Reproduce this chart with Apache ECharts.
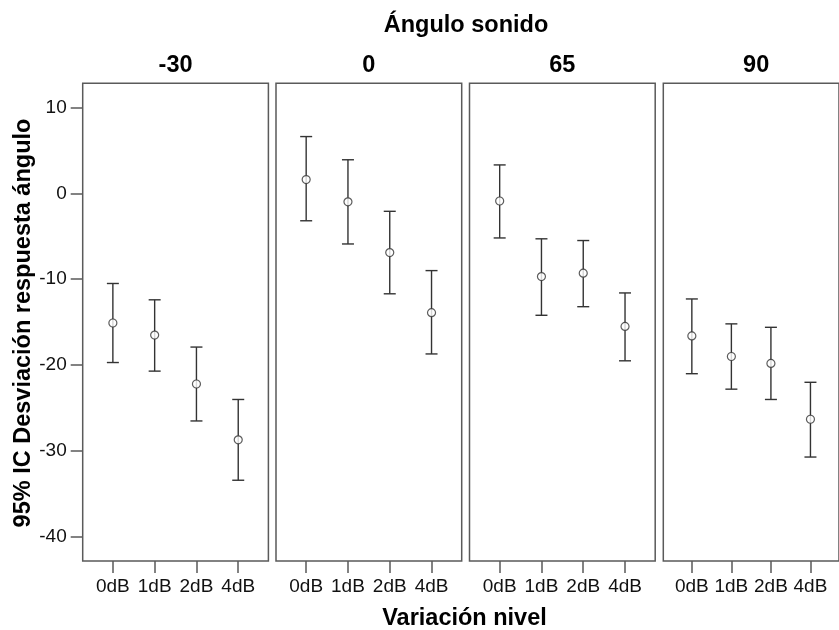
<!DOCTYPE html>
<html>
<head>
<meta charset="utf-8">
<script src="https://cdn.jsdelivr.net/npm/echarts@6/dist/echarts.min.js"></script>
<style>
  html, body { margin: 0; padding: 0; background: #fff; }
  #chart { width: 839px; height: 630px; }
</style>
</head>
<body>
<div id="chart"></div>
<script>
// Level variation categories on the x axis of every panel
const categories = ['0dB', '1dB', '2dB', '4dB'];
// Sound angle facets
const panels = ['-30', '0', '65', '90'];
// Y axis tick values
const yTicks = [-40, -30, -20, -10, 0, 10];

// Means and 95% CI bounds per facet
const meanM30 = [-15.1, -16.5, -22.2, -28.7];
const lowM30  = [-19.7, -20.7, -26.5, -33.4];
const highM30 = [-10.5, -12.4, -17.9, -24.0];

const mean0 = [1.6, -1.0, -6.9, -13.9];
const low0  = [-3.2, -5.9, -11.7, -18.7];
const high0 = [6.6, 3.9, -2.1, -9.0];

const mean65 = [-0.9, -9.7, -9.3, -15.5];
const low65  = [-5.2, -14.2, -13.2, -19.5];
const high65 = [3.3, -5.3, -5.5, -11.6];

const mean90 = [-16.6, -19.0, -19.8, -26.3];
const low90  = [-21.0, -22.8, -24.0, -30.7];
const high90 = [-12.3, -15.2, -15.6, -22.0];

const means = [meanM30, mean0, mean65, mean90];
const lows = [lowM30, low0, low65, low90];
const highs = [highM30, high0, high65, high90];

const FONT = 'Liberation Sans, Arial, Helvetica, sans-serif';
const BORDER = '#5a5a5a';
const BAR = '#333';

// Panel layout
const panelLeft = [82.7, 276, 469.5, 663.3];
const panelWidth = 185.7;
const panelTop = 83.3;
const panelHeight = 477.7;
const catIdx = categories.map((c, i) => i);

const grids = [], xAxes = [], yAxes = [], series = [], graphics = [];

panels.forEach((p, k) => {
  grids.push({
    left: panelLeft[k], top: panelTop, width: panelWidth, height: panelHeight,
    show: true, borderColor: BORDER, borderWidth: 1.5, backgroundColor: '#fff'
  });
  xAxes.push({
    gridIndex: k, type: 'value', min: -0.722, max: 3.722, position: 'bottom',
    axisLine: { show: false, onZero: false },
    splitLine: { show: false },
    axisTick: { show: true, inside: false, length: 12, customValues: catIdx,
      lineStyle: { color: BORDER, width: 1.5 } },
    axisLabel: { show: true, customValues: catIdx, margin: 16,
      fontFamily: FONT, fontSize: 19, color: '#111',
      formatter: v => categories[Math.round(v)] }
  });
  yAxes.push({
    gridIndex: k, type: 'value', min: -42.8, max: 12.8, position: 'left',
    axisLine: { show: false, onZero: false },
    splitLine: { show: false },
    axisTick: { show: k === 0, inside: false, length: 12, customValues: yTicks,
      lineStyle: { color: BORDER, width: 1.5 } },
    axisLabel: { show: k === 0, customValues: yTicks, margin: 16,
      fontFamily: FONT, fontSize: 19, color: '#111' }
  });

  // Error bars: [x, low, high]
  series.push({
    type: 'custom', xAxisIndex: k, yAxisIndex: k,
    data: catIdx.map(i => [i, lows[k][i], highs[k][i]]),
    renderItem: (params, api) => {
      const x = api.value(0);
      const lo = api.coord([x, api.value(1)]);
      const hi = api.coord([x, api.value(2)]);
      const half = 6;
      const style = { stroke: BAR, lineWidth: 1.4 };
      return {
        type: 'group',
        children: [
          { type: 'line', shape: { x1: lo[0], y1: lo[1], x2: hi[0], y2: hi[1] }, style },
          { type: 'line', shape: { x1: hi[0] - half, y1: hi[1], x2: hi[0] + half, y2: hi[1] }, style },
          { type: 'line', shape: { x1: lo[0] - half, y1: lo[1], x2: lo[0] + half, y2: lo[1] }, style }
        ]
      };
    },
    z: 2, silent: true
  });
  // Means as hollow circles
  series.push({
    type: 'scatter', xAxisIndex: k, yAxisIndex: k,
    data: catIdx.map(i => [i, means[k][i]]),
    symbol: 'circle', symbolSize: 8,
    itemStyle: { color: '#fff', borderColor: BAR, borderWidth: 1.2 },
    z: 3, silent: true
  });

  // Facet header
  graphics.push({
    type: 'text', x: panelLeft[k] + panelWidth / 2, y: 65.3,
    style: { text: p, font: 'bold 23.5px ' + FONT, fill: '#000',
      align: 'center', verticalAlign: 'middle' }
  });
});

graphics.push({
  type: 'text', x: 466, y: 25.3,
  style: { text: 'Ángulo sonido', font: 'bold 23.5px ' + FONT, fill: '#000',
    align: 'center', verticalAlign: 'middle' }
});
graphics.push({
  type: 'text', x: 464.5, y: 618.5,
  style: { text: 'Variación nivel', font: 'bold 23.5px ' + FONT, fill: '#000',
    align: 'center', verticalAlign: 'middle' }
});
graphics.push({
  type: 'text', x: 23.5, y: 323, rotation: Math.PI / 2,
  style: { text: '95% IC Desviación respuesta ángulo', font: 'bold 23.5px ' + FONT, fill: '#000',
    align: 'center', verticalAlign: 'middle' }
});

const chart = echarts.init(document.getElementById('chart'), null, { renderer: 'canvas' });
chart.setOption({
  animation: false,
  backgroundColor: '#fff',
  grid: grids,
  xAxis: xAxes,
  yAxis: yAxes,
  series: series,
  graphic: graphics
});
</script>
</body>
</html>
